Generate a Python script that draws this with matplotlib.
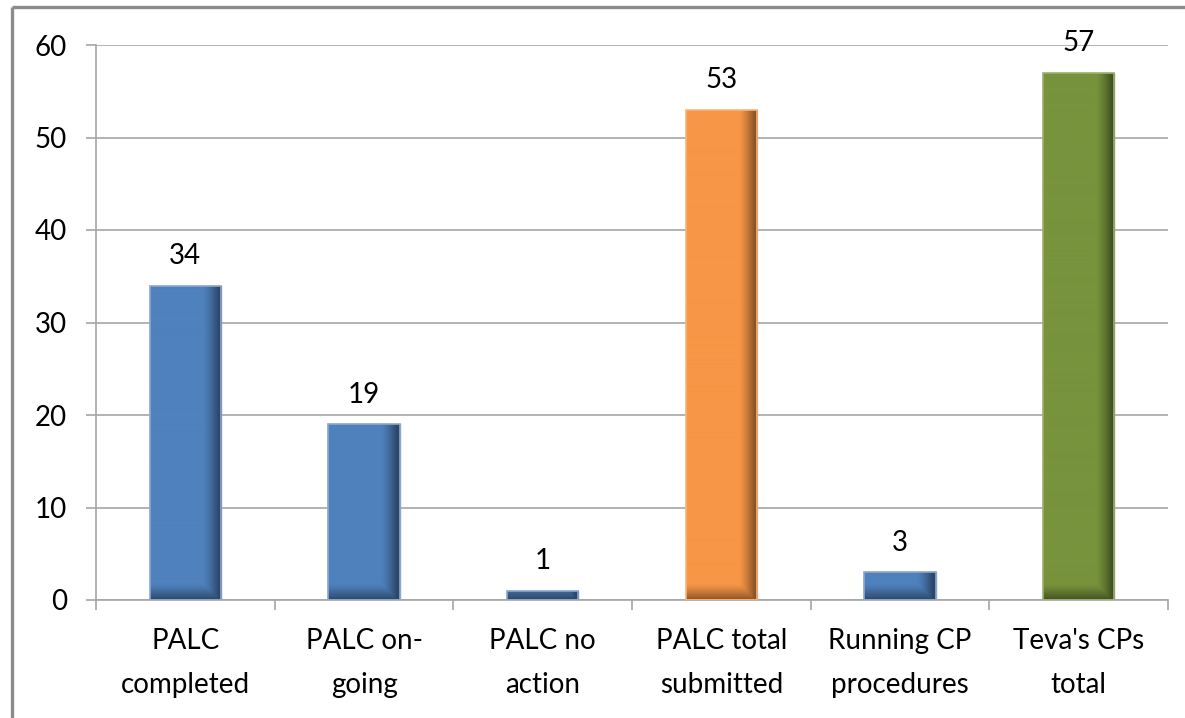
import numpy as np
import matplotlib
matplotlib.use("Agg")
import matplotlib.pyplot as plt
from matplotlib.patches import Rectangle
from matplotlib.colors import to_rgb

categories = ["PALC\ncompleted", "PALC on-\ngoing", "PALC no\naction",
              "PALC total\nsubmitted", "Running CP\nprocedures", "Teva's CPs\ntotal"]
values = [34, 19, 1, 53, 3, 57]
bar_colors = ["#4F81BD", "#4F81BD", "#4F81BD", "#F79646", "#4F81BD", "#77933C"]
edge_colors = ["#8DA8CE", "#8DA8CE", "#8DA8CE", "#FBB47C", "#8DA8CE", "#9DB26E"]
yticks = [0, 10, 20, 30, 40, 50, 60]

plt.rcParams["font.family"] = ["Lato", "DejaVu Sans"]
W, H, DPI = 1185, 718, 100
fig = plt.figure(figsize=(W / DPI, H / DPI), dpi=DPI)
fig.patch.set_facecolor("white")

# outer chart frame (left and top edges visible)
frame_col = "#8C8C8C"
fig.add_artist(plt.Line2D([12 / W, 12 / W], [0, 1 - 7 / H], transform=fig.transFigure,
                          color=frame_col, lw=2.4, solid_capstyle="butt"))
fig.add_artist(plt.Line2D([12 / W, 1], [1 - 7 / H, 1 - 7 / H], transform=fig.transFigure,
                          color=frame_col, lw=2.4, solid_capstyle="butt"))

left, right, top, bottom = 96, 1168, 45, 600
ax = fig.add_axes([left / W, 1 - bottom / H, (right - left) / W, (bottom - top) / H])
ax.set_facecolor("white")

x = np.arange(len(values))
bw = 0.4
grid_col = "#A6A6A6"
ax.set_axisbelow(True)
ax.yaxis.grid(True, color=grid_col, lw=1.2)

px_per_unit = (bottom - top) / 60.0
bars = ax.bar(x, values, width=bw, color=bar_colors, edgecolor=edge_colors,
              linewidth=1.0, zorder=2)

# shaded overlay for each bar: darker towards the right edge and the base
for xi, v, col, ecol in zip(x, values, bar_colors, edge_colors):
    hpx = max(int(round(v * px_per_unit)), 2)
    wpx = 72
    u = (np.arange(wpx) + 0.5) / wpx
    dist_bottom = (np.arange(hpx)[::-1] + 0.5)  # row 0 is top
    tx = np.clip((u - 0.74) / (0.96 - 0.74), 0, 1) ** 1.3
    ty = np.clip((16 - dist_bottom) / 16, 0, 1) ** 1.2
    t = np.maximum(tx[None, :], ty[:, None])
    base = np.array(to_rgb(col))
    rgb = base[None, None, :] * (1 - 0.45 * t[:, :, None])
    img = ax.imshow(rgb, extent=[xi - bw / 2, xi + bw / 2, 0, v], aspect="auto",
                    interpolation="bilinear", zorder=2.5)
    clip = Rectangle((xi - bw / 2, 0), bw, v, transform=ax.transData)
    img.set_clip_path(clip)
    ax.add_patch(Rectangle((xi - bw / 2, 0), bw, v, fill=False,
                           edgecolor=ecol, lw=1.2, zorder=3))
    ax.annotate(str(v), (xi, v), xytext=(0, 12), textcoords="offset points",
                ha="center", va="bottom", fontsize=20, color="#000000")

ax.set_xlim(-0.5, len(values) - 0.5)
ax.set_ylim(0, 60)
ax.set_yticks(yticks)
ax.set_yticklabels([str(t) for t in yticks], fontsize=20)
ax.set_xticks(x)
ax.set_xticklabels(categories, fontsize=20, linespacing=1.85)
ax.set_xticks(np.arange(len(values) + 1) - 0.5, minor=True)
ax.tick_params(axis="x", which="major", length=0, pad=20)
ax.tick_params(axis="x", which="minor", length=7, width=1.2, color=grid_col)
ax.tick_params(axis="y", length=7, width=1.2, color=grid_col, pad=14)

for s in ["top", "right"]:
    ax.spines[s].set_visible(False)
for s in ["left", "bottom"]:
    ax.spines[s].set_color(grid_col)
    ax.spines[s].set_linewidth(1.2)
ax.spines["left"].set_bounds(0, 60)

fig.savefig("out.png", dpi=DPI, facecolor="white")
